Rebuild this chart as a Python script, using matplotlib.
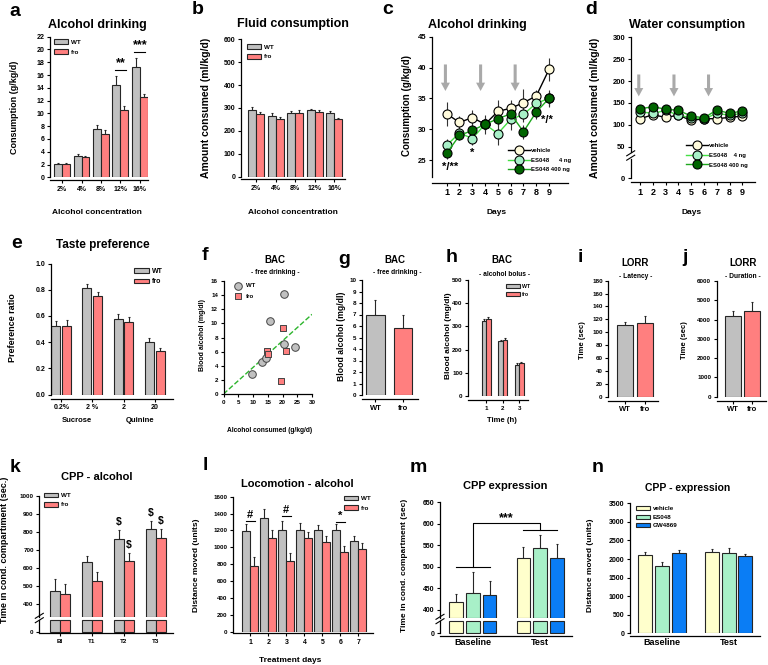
import numpy as np
import matplotlib
matplotlib.use('Agg')
import matplotlib.pyplot as plt
from matplotlib.lines import Line2D
from matplotlib.patches import Patch

plt.rcParams['font.family'] = ['Liberation Sans', 'DejaVu Sans']
plt.rcParams['font.weight'] = 'bold'

# ---------------- data ----------------
conc = ['2%', '4%', '8%', '12%', '16%']
a_wt = [2.1, 3.3, 7.6, 14.4, 17.2]
a_wt_err = [0.1, 0.4, 0.6, 1.4, 1.4]
a_fro = [2.1, 3.1, 6.8, 10.6, 12.5]
a_fro_err = [0.1, 0.3, 0.6, 0.5, 0.6]

b_wt = [290, 266, 277, 290, 276]
b_wt_err = [14, 10, 8, 6, 10]
b_fro = [274, 252, 277, 281, 252]
b_fro_err = [7, 8, 13, 12, 6]

days = [1, 2, 3, 4, 5, 6, 7, 8, 9]
c_veh = [32.5, 31.1, 31.9, 30.8, 32.9, 33.4, 34.3, 35.4, 39.7]
c_veh_err = [1.9, 1.0, 1.2, 1.0, 1.9, 1.3, 2.3, 0.9, 1.8]
c_es4 = [27.4, 29.4, 28.5, 30.8, 29.3, 31.6, 32.4, 34.2, 35.0]
c_es4_err = [1.0, 0.8, 1.0, 1.0, 1.9, 1.8, 1.2, 1.0, 1.2]
c_es400 = [26.1, 29.0, 29.8, 30.8, 31.7, 32.5, 29.6, 32.8, 35.0]
c_es400_err = [1.0, 0.8, 1.0, 1.5, 1.2, 1.5, 1.1, 1.2, 1.4]

d_veh = [114, 123, 117, 122, 110, 114, 114, 117, 120]
d_es4 = [130, 126, 133, 122, 116, 114, 126, 122, 126]
d_es400 = [137, 141, 136, 133, 120, 116, 134, 126, 132]
d_err = [6, 6, 6, 5, 5, 5, 6, 5, 5]

inject_days = [0.9, 3.65, 6.35]

e_labels = ['0.2%', '2 %', '2', '20']
e_wt = [0.52, 0.81, 0.58, 0.40]
e_wt_err = [0.04, 0.03, 0.035, 0.035]
e_fro = [0.52, 0.75, 0.55, 0.33]
e_fro_err = [0.045, 0.035, 0.04, 0.025]

f_wt_x = [9.5, 13.1, 14.3, 15.7, 20.4, 20.5, 24.3]
f_wt_y = [2.8, 4.6, 5.1, 10.4, 14.1, 7.1, 6.7]
f_fro_x = [14.9, 15.1, 20.3, 21.2, 19.5]
f_fro_y = [6.1, 5.6, 9.3, 6.1, 1.9]
f_slope = 0.376

g_groups = ['WT', 'fro']
g_vals = [7.0, 5.8]
g_err = [1.3, 1.2]

h_hours = [1, 2, 3]
h_wt = [325, 235, 135]
h_wt_err = [5, 8, 6]
h_fro = [333, 243, 142]
h_fro_err = [6, 9, 5]

i_vals = [111, 115]
i_err = [5, 10]
j_vals = [4200, 4430]
j_err = [250, 480]

k_labels = ['Bl', 'T1', 'T2', 'T3']
k_wt = [472, 630, 760, 815]
k_wt_err = [65, 35, 50, 45]
k_fro = [453, 525, 638, 765]
k_fro_err = [55, 50, 45, 50]

l_days = [1, 2, 3, 4, 5, 6, 7]
l_wt = [1190, 1350, 1210, 1210, 1210, 1210, 1080]
l_wt_err = [90, 110, 100, 80, 60, 70, 60]
l_fro = [780, 1110, 840, 1110, 1060, 940, 985]
l_fro_err = [100, 100, 90, 70, 80, 80, 70]

mn_groups = ['Baseline', 'Test']
mn_treat = ['vehicle', 'ES048', 'GW4869']
m_vals = [[418, 520], [439, 545], [434, 520]]
m_err = [[19, 26], [49, 29], [34, 34]]
n_vals = [[2109, 2199], [1822, 2172], [2154, 2083]]
n_err = [[80, 60], [110, 130], [100, 50]]

# ---------------- style ----------------
GREY = '#c0c0c0'
SALMON = '#ff7f7f'
CREAM = '#fffbdc'
MINT = '#a8f0c8'
BLUE = '#0a7df5'
DKGREEN = '#006400'
EC = '#262626'
TREAT_COLORS = ['#ffffcc', MINT, BLUE]

W, H = 768, 665
fig = plt.figure(figsize=(W / 100, H / 100), dpi=100)


def axpx(l, t, r, b, fs=5):
    ax = fig.add_axes([l / W, 1 - b / H, (r - l) / W, (b - t) / H])
    ax.patch.set_alpha(0)
    for s in ('top', 'right'):
        ax.spines[s].set_visible(False)
    for s in ('left', 'bottom'):
        ax.spines[s].set_linewidth(0.9)
    ax.tick_params(direction='out', length=2.5, width=0.8, labelsize=fs, pad=1.5)
    return ax


def ftext(x, y, s, fs=6, **kw):
    kw.setdefault('ha', 'center')
    kw.setdefault('va', 'center')
    fig.text(x / W, 1 - y / H, s, fontsize=fs, fontweight='bold', **kw)


def ylab(x, y, s, fs=6):
    ftext(x, y, s, fs=fs, rotation=90)


def bars(ax, x, vals, errs, color, w, base=0):
    vals = np.asarray(vals, float)
    ax.bar(x, vals - base, w, bottom=base, color=color, edgecolor=EC,
           linewidth=0.8, zorder=2)
    ax.errorbar(x, vals, yerr=[np.zeros_like(vals), errs], fmt='none',
                ecolor=EC, elinewidth=0.8, capsize=1, capthick=0.8, zorder=1)


def leg(ax, handles, labels, x, y, fs=5, **kw):
    kw.setdefault('handletextpad', 0.4)
    ax.legend(handles, labels, loc='upper left', bbox_to_anchor=(x / W, 1 - y / H),
              bbox_transform=fig.transFigure, frameon=False, fontsize=fs,
              borderaxespad=0, borderpad=0, **kw)


def rect(c):
    return Patch(facecolor=c, edgecolor=EC, linewidth=0.8)


def brk(x, y):
    for dy in (-2.2, 2.2):
        fig.add_artist(Line2D([(x - 4) / W, (x + 4) / W],
                              [1 - (y + dy + 2.5) / H, 1 - (y + dy - 2.5) / H],
                              color='k', lw=0.8))


def letter(x, y, s):
    ftext(x, y, s, fs=14)


# ---------------- a ----------------
ax = axpx(50, 36.7, 148, 177.3)
xa = np.arange(len(conc))
bars(ax, xa - 0.205, a_wt, a_wt_err, GREY, 0.41)
bars(ax, xa + 0.205, a_fro, a_fro_err, SALMON, 0.41)
ax.set_xlim(-0.62, 4.42)
ax.set_ylim(0, 22)
ax.set_yticks(range(0, 23, 2))
ax.set_xticks(xa)
ax.set_xticklabels(conc)
ax.spines['bottom'].set_position(('outward', 2))
for gi, yl, st in [(3, 16.8, '**'), (4, 19.6, '***')]:
    ax.plot([gi - 0.28, gi + 0.28], [yl, yl], color='k', lw=0.8)
    ax.text(gi, yl + 1.1, st, ha='center', va='center', fontsize=9)
leg(ax, [rect(GREY), rect(SALMON)], ['WT', 'fro'], 54, 39, fs=4.5,
    handlelength=2.3, handleheight=0.8, labelspacing=0.7)
letter(15, 11, 'a')
ftext(97, 25, 'Alcohol drinking', fs=9)
ylab(15, 107, 'Consumption (g/kg/d)', fs=6.5)
ftext(97, 212, 'Alcohol concentration', fs=6)

# ---------------- b ----------------
ax = axpx(240.7, 39.3, 345, 176.7)
bars(ax, xa - 0.205, b_wt, b_wt_err, GREY, 0.41)
bars(ax, xa + 0.205, b_fro, b_fro_err, SALMON, 0.41)
ax.set_xlim(-0.79, 4.56)
ax.set_ylim(0, 600)
ax.set_yticks(range(0, 601, 100))
ax.set_xticks(xa)
ax.set_xticklabels(conc)
ax.spines['bottom'].set_position(('outward', 2))
leg(ax, [rect(GREY), rect(SALMON)], ['WT', 'fro'], 247, 44, fs=4.5,
    handlelength=2.3, handleheight=0.8, labelspacing=0.7)
letter(198, 10, 'b')
ftext(293, 24, 'Fluid consumption', fs=9)
ylab(206, 108, 'Amount consumed (ml/kg/d)', fs=7.5)
ftext(293, 212, 'Alcohol concentration', fs=6)


# ---------------- c ----------------
def lines3(ax, series, errs):
    styles = [('k', CREAM), ('#44e044', MINT), ('#1fa81f', DKGREEN)]
    hs = []
    for vals, er, (lc, fc) in zip(series, errs, styles):
        ax.errorbar(days, vals, yerr=er, fmt='none', ecolor='#333333',
                    elinewidth=0.8, zorder=2)
        h, = ax.plot(days, vals, '-o', color=lc, lw=1.0, mfc=fc, mec='k',
                     mew=0.8, ms=6.5, zorder=3)
        hs.append(h)
    return hs


ax = axpx(432.3, 36.7, 568, 177, fs=5.5)
hs = lines3(ax, [c_veh, c_es4, c_es400], [c_veh_err, c_es4_err, c_es400_err])
ax.set_xlim(-0.125, 10.48)
ax.set_ylim(22.26, 45)
ax.set_yticks([25, 30, 35, 40, 45])
ax.set_xticks(days)
ax.tick_params(axis='x', labelsize=6.5)
ax.spines['bottom'].set_position(('outward', 4))
for d in inject_days:
    ax.annotate('', xy=(d, 36.2), xytext=(d, 40.5),
                arrowprops=dict(width=2.2, headwidth=6.5, headlength=6,
                                color='#a9a9a9', lw=0))
ax.text(1.3, 23.8, '*/**', ha='center', va='center', fontsize=8)
ax.text(2.97, 26.2, '*', ha='center', va='center', fontsize=8)
ax.text(8.8, 31.5, '*/*', ha='center', va='center', fontsize=8)
leg(ax, hs, ['vehicle', 'ES048      4 ng', 'ES048 400 ng'], 508, 148, fs=4.3,
    handlelength=3.6, labelspacing=0.75, handletextpad=0.3)
letter(388, 10, 'c')
ftext(477, 25, 'Alcohol drinking', fs=9)
ylab(407, 105, 'Consumption (g/kg/d)', fs=7)
ftext(497, 212, 'Days', fs=6)

# ---------------- d ----------------
ax = axpx(630.7, 37.3, 755, 152, fs=5.5)
hs = lines3(ax, [d_veh, d_es4, d_es400], [d_err, d_err, d_err])
ax.set_xlim(0.27, 9.98)
ax.set_ylim(37.9, 300)
ax.set_yticks(range(50, 301, 50))
ax.spines['bottom'].set_visible(False)
ax.tick_params(axis='x', bottom=False, labelbottom=False)
for d in inject_days:
    ax.annotate('', xy=(d, 165), xytext=(d, 215),
                arrowprops=dict(width=2.2, headwidth=6.5, headlength=6,
                                color='#a9a9a9', lw=0))
leg(ax, hs, ['vehicle', 'ES048    4 ng', 'ES048 400 ng'], 686, 143, fs=4.3,
    handlelength=3.6, labelspacing=0.75, handletextpad=0.3)
ax2 = axpx(630.7, 159, 755, 178.3, fs=5.5)
ax2.set_xlim(0.27, 9.98)
ax2.set_ylim(0, 1)
ax2.set_yticks([0])
ax2.set_xticks(days)
ax2.tick_params(axis='x', labelsize=6.5)
ax2.spines['bottom'].set_position(('outward', 3))
brk(630.7, 155.5)
letter(591, 10, 'd')
ftext(687, 25, 'Water consumption', fs=9)
ylab(595, 108, 'Amount consumed (ml/kg/d)', fs=7.5)
ftext(692, 212, 'Days', fs=6)

# ---------------- e ----------------
ax = axpx(50.7, 263.5, 173.3, 394.5)
xe = np.arange(len(e_labels))
bars(ax, xe - 0.175, e_wt, e_wt_err, GREY, 0.29)
bars(ax, xe + 0.175, e_fro, e_fro_err, SALMON, 0.29)
ax.set_xlim(-0.34, 3.6)
ax.set_ylim(0, 1.0)
ax.set_yticks(np.arange(0, 1.01, 0.2))
ax.yaxis.set_major_formatter(matplotlib.ticker.FormatStrFormatter('%.1f'))
ax.set_xticks(xe)
ax.set_xticklabels(e_labels)
ax.spines['bottom'].set_position(('outward', 3))
leg(ax, [rect(GREY), rect(SALMON)], ['WT', 'fro'], 134, 268, fs=5,
    handlelength=2.2, handleheight=0.7, labelspacing=0.5)
letter(17, 243, 'e')
ftext(103, 245, 'Taste preference', fs=8.5)
ylab(13, 328, 'Preference ratio', fs=6.5)
ftext(77, 421, 'Sucrose', fs=5.5)
ftext(140, 421, 'Quinine', fs=5.5)

# ---------------- f ----------------
ax = axpx(223.5, 281, 312, 394, fs=4.5)
xs = np.array([0, 30])
ax.plot(xs, f_slope * xs, '--', color='#2db52d', lw=1.0, zorder=1)
ax.scatter(f_wt_x, f_wt_y, s=30, marker='o', color=GREY, edgecolor='#444444',
           lw=0.7, zorder=3, label='WT')
ax.scatter(f_fro_x, f_fro_y, s=24, marker='s', color=SALMON, edgecolor='#444444',
           lw=0.7, zorder=3, label='fro')
ax.set_xlim(0, 30)
ax.set_ylim(0, 16)
ax.set_xticks(range(0, 31, 5))
ax.set_yticks(range(0, 17, 2))
h1, l1 = ax.get_legend_handles_labels()
leg(ax, h1, l1, 232, 283, fs=4.3, labelspacing=0.9, handletextpad=0.3)
letter(205, 256, 'f')
ftext(275, 260, 'BAC', fs=7)
ftext(275, 272, '- free drinking -', fs=4.8)
ylab(203, 335, 'Blood alcohol (mg/dl)', fs=5)
ftext(270, 431, 'Alcohol consumed (g/kg/d)', fs=4.8)

# ---------------- g ----------------
ax = axpx(362, 280, 418, 395, fs=4.5)
bars(ax, [0, 1], g_vals, g_err, [GREY, SALMON], 0.66)
ax.set_xlim(-0.49, 1.55)
ax.set_ylim(0, 10)
ax.set_yticks(range(0, 11))
ax.set_xticks([0, 1])
ax.set_xticklabels(g_groups)
ax.tick_params(axis='x', labelsize=5.5)
ax.spines['bottom'].set_position(('outward', 3))
letter(344, 260, 'g')
ftext(395, 260, 'BAC', fs=7)
ftext(397, 272, '- free drinking -', fs=4.8)
ylab(342, 336, 'Blood alcohol (mg/dl)', fs=6.2)

# ---------------- h ----------------
ax = axpx(468.3, 280, 528.3, 396, fs=4.5)
xh = np.asarray(h_hours)
bars(ax, xh - 0.13, h_wt, h_wt_err, GREY, 0.26)
bars(ax, xh + 0.13, h_fro, h_fro_err, SALMON, 0.26)
ax.set_xlim(-0.09, 3.55)
ax.set_ylim(0, 500)
ax.set_yticks(range(0, 501, 100))
ax.set_xticks(xh)
ax.spines['bottom'].set_position(('outward', 3))
leg(ax, [rect(GREY), rect(SALMON)], ['WT', 'fro'], 506, 284, fs=3.8,
    handlelength=2.6, handleheight=0.7, labelspacing=0.6)
letter(452, 257, 'h')
ftext(502, 260, 'BAC', fs=7)
ftext(505, 274, '- alcohol bolus -', fs=4.8)
ylab(448, 336, 'Blood alcohol (mg/dl)', fs=6)
ftext(502, 421, 'Time (h)', fs=5.5)

# ---------------- i ----------------
ax = axpx(608.3, 280.7, 658, 396.7, fs=4.5)
bars(ax, [0, 1], i_vals, i_err, [GREY, SALMON], 0.81)
ax.set_xlim(-0.82, 1.63)
ax.set_ylim(0, 180)
ax.set_yticks(range(0, 181, 20))
ax.set_xticks([0, 1])
ax.set_xticklabels(g_groups)
ax.tick_params(axis='x', labelsize=5.5)
ax.spines['bottom'].set_position(('outward', 3))
letter(580, 257, 'i')
ftext(635, 263, 'LORR', fs=7)
ftext(636, 276, '- Latency -', fs=4.8)
ylab(582, 340, 'Time (sec)', fs=5.5)

# ---------------- j ----------------
ax = axpx(716.7, 281, 766, 396.7, fs=4.5)
bars(ax, [0, 1], j_vals, j_err, [GREY, SALMON], 0.81)
ax.set_xlim(-0.83, 1.71)
ax.set_ylim(0, 6000)
ax.set_yticks(range(0, 6001, 1000))
ax.set_xticks([0, 1])
ax.set_xticklabels(g_groups)
ax.tick_params(axis='x', labelsize=5.5)
ax.spines['bottom'].set_position(('outward', 3))
letter(685, 258, 'j')
ftext(743, 263, 'LORR', fs=7)
ftext(743, 276, '- Duration -', fs=4.8)
ylab(685, 340, 'Time (sec)', fs=5.5)

# ---------------- k ----------------
k_lo = 326
xk = np.arange(len(k_labels))
ax = axpx(39.3, 496, 173.3, 617, fs=4.5)
bars(ax, xk - 0.16, k_wt, k_wt_err, GREY, 0.31, base=k_lo)
bars(ax, xk + 0.16, k_fro, k_fro_err, SALMON, 0.31, base=k_lo)
ax.set_xlim(-0.65, 3.55)
ax.set_ylim(k_lo, 1000)
ax.set_yticks(range(400, 1001, 100))
ax.spines['bottom'].set_visible(False)
ax.tick_params(axis='x', bottom=False, labelbottom=False)
for gi, off, v, e in [(2, -0.16, k_wt[2], k_wt_err[2]), (2, 0.16, k_fro[2], k_fro_err[2]),
                      (3, -0.16, k_wt[3], k_wt_err[3]), (3, 0.16, k_fro[3], k_fro_err[3])]:
    ax.text(gi + off, v + e + 45, '$', ha='center', va='center', fontsize=7.5)
leg(ax, [rect(GREY), rect(SALMON)], ['WT', 'fro'], 44, 493, fs=4.5,
    handlelength=2.3, handleheight=0.7, labelspacing=0.6)
ax2 = axpx(39.3, 620, 173.3, 632, fs=4.5)
for off, c in [(-0.16, GREY), (0.16, SALMON)]:
    ax2.bar(xk + off, 1, 0.31, color=c, edgecolor=EC, linewidth=0.8, clip_on=False)
ax2.set_xlim(-0.65, 3.55)
ax2.set_ylim(0, 1)
ax2.set_yticks([0])
ax2.set_xticks(xk)
ax2.set_xticklabels(k_labels)
ax2.spines['bottom'].set_position(('outward', 1))
brk(39.3, 618)
letter(15, 468, 'k')
ftext(97, 477, 'CPP - alcohol', fs=8)
ylab(5, 550, 'Time in cond. compartiment (sec.)', fs=6.5)

# ---------------- l ----------------
ax = axpx(232.7, 496.7, 373.3, 631.7, fs=4.5)
xl = np.asarray(l_days)
bars(ax, xl - 0.22, l_wt, l_wt_err, GREY, 0.44)
bars(ax, xl + 0.22, l_fro, l_fro_err, SALMON, 0.44)
ax.set_xlim(0.02, 7.83)
ax.set_ylim(0, 1600)
ax.set_yticks(range(0, 1601, 200))
ax.set_xticks(xl)
ax.tick_params(axis='x', labelsize=5)
ax.spines['bottom'].set_position(('outward', 1))
for dd, yl, st in [(1, 1310, '#'), (3, 1373, '#'), (6, 1302, '*')]:
    ax.plot([dd - 0.25, dd + 0.25], [yl, yl], color='k', lw=0.8)
    ax.text(dd, yl + 75, st, ha='center', va='center', fontsize=8)
leg(ax, [rect(GREY), rect(SALMON)], ['WT', 'fro'], 344, 496, fs=4.5,
    handlelength=2.3, handleheight=0.7, labelspacing=0.6)
letter(205, 465, 'l')
ftext(297, 484, 'Locomotion - alcohol', fs=8)
ylab(197, 565, 'Distance moved (units)', fs=6)
ftext(290, 660, 'Treatment days', fs=6)

# ---------------- m ----------------
m_lo = 382
xm = np.arange(len(mn_groups))
ax = axpx(440, 502.3, 571.7, 617.7, fs=5)
for ti in range(3):
    bars(ax, xm + (ti - 1) * 0.25, m_vals[ti], m_err[ti], TREAT_COLORS[ti], 0.2, base=m_lo)
ax.set_xlim(-0.49, 1.47)
ax.set_ylim(m_lo, 650)
ax.set_yticks(range(400, 651, 50))
ax.spines['bottom'].set_visible(False)
ax.tick_params(axis='x', bottom=False, labelbottom=False)
ax.plot([-0.25, 0.25], [500, 500], color='k', lw=0.8)
ax.plot([0.75, 1.25], [586, 586], color='k', lw=0.8)
ax.plot([0, 0, 1, 1], [500, 601, 601, 586], color='k', lw=0.8)
ax.text(0.5, 614, '***', ha='center', va='center', fontsize=9)
ax2 = axpx(440, 621, 571.7, 633.3, fs=5)
for ti in range(3):
    ax2.bar(xm + (ti - 1) * 0.25, 1, 0.2, color=TREAT_COLORS[ti], edgecolor=EC,
            linewidth=0.8, clip_on=False)
ax2.set_xlim(-0.49, 1.47)
ax2.set_ylim(0, 1)
ax2.set_yticks([0])
ax2.set_xticks(xm)
ax2.set_xticklabels(mn_groups)
ax2.tick_params(axis='x', labelsize=6.5, length=0)
ax2.spines['bottom'].set_position(('outward', 2))
brk(440, 619)
letter(418, 468, 'm')
ftext(505, 486, 'CPP expression', fs=8)
ylab(404, 565, 'Time in cond. compartment (sec)', fs=6)

# ---------------- n ----------------
ax = axpx(630, 503.3, 760, 633.3, fs=5)
for ti in range(3):
    bars(ax, xm + (ti - 1) * 0.25, n_vals[ti], n_err[ti], TREAT_COLORS[ti], 0.21)
ax.set_xlim(-0.48, 1.47)
ax.set_ylim(0, 3500)
ax.set_yticks(range(0, 3501, 500))
ax.set_xticks(xm)
ax.set_xticklabels(mn_groups)
ax.tick_params(axis='x', labelsize=6.5, length=0)
ax.spines['bottom'].set_position(('outward', 2))
leg(ax, [rect(c) for c in TREAT_COLORS], mn_treat, 636, 506, fs=4.5,
    handlelength=2.3, handleheight=0.7, labelspacing=0.5)
letter(598, 468, 'n')
ftext(688, 488, 'CPP - expression', fs=7.5)
ylab(591, 565, 'Distance moved (units)', fs=6)

fig.savefig('out.png', dpi=100)
